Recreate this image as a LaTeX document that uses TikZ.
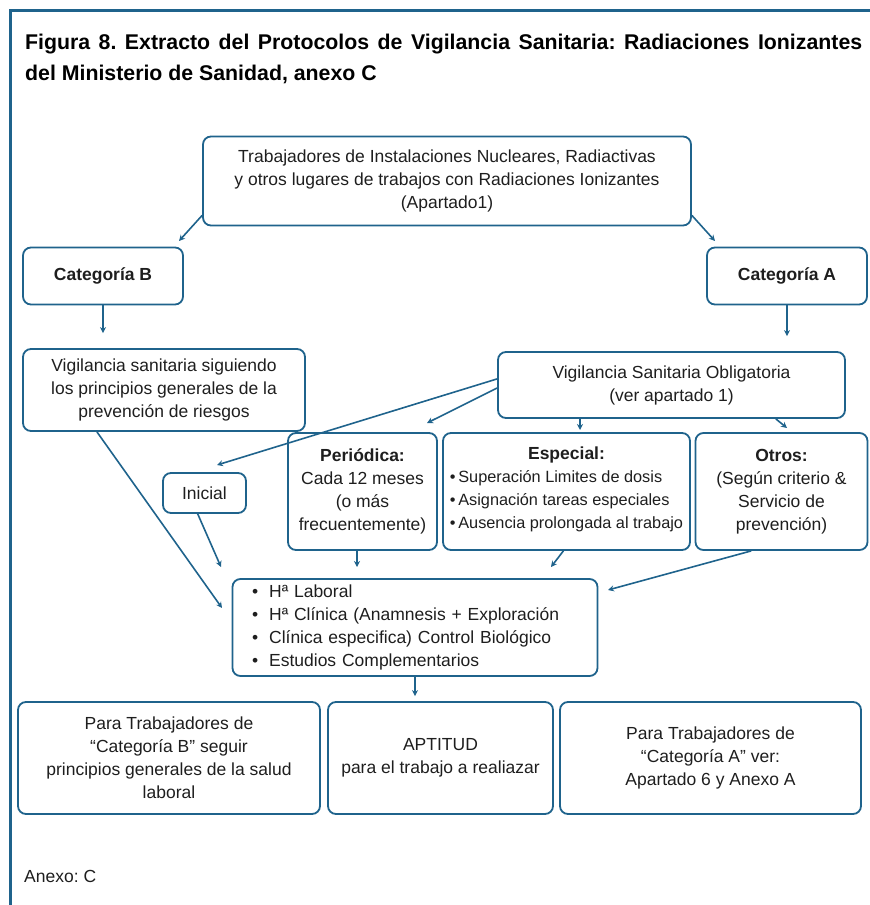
\documentclass[tikz,border=0pt]{standalone}
\usepackage{fontspec}
\setmainfont{Liberation Sans}
\usetikzlibrary{arrows.meta,calc}
\definecolor{marco}{RGB}{31,99,140}
\definecolor{texto}{RGB}{30,30,30}
\newcommand{\txt}{\fontsize{17.5}{23}\selectfont}
\frenchspacing

\begin{document}
\begin{tikzpicture}[x=1pt,y=-1pt,
        caja/.style={draw=marco,line width=1.8pt,rounded corners=8pt,align=center,inner sep=0pt,text=texto,font=\txt},
        flecha/.style={draw=marco,line width=1.6pt,-{Stealth[length=6pt,width=6pt]}}]
        \useasboundingbox (0,0) rectangle (870,905);
        \draw[marco,line width=3pt] (870,10) -- (10,10) -- (10,905);

        \node[anchor=north west,text width=837pt,align=justify,inner sep=0pt,font=\bfseries\fontsize{21.3}{31}\selectfont] (titulo) at (25,34)
            {Figura 8. Extracto del Protocolos de Vigilancia Sanitaria: Radiaciones Ionizantes\linebreak del Ministerio de Sanidad, anexo C};

        \node[caja,minimum width=488pt,minimum height=89pt] (trab) at (447,181)
            {Trabajadores de Instalaciones Nucleares, Radiactivas\\y otros lugares de trabajos con Radiaciones Ionizantes\\(Apartado1)};

        \node[caja,minimum width=160pt,minimum height=57pt,font=\txt\bfseries] (catB) at (103,276) {Categoría B};
        \node[caja,minimum width=160pt,minimum height=57pt,font=\txt\bfseries] (catA) at (787,276) {Categoría A};

        \node[caja,minimum width=282pt,minimum height=82pt] (vigB) at (164,390)
            {Vigilancia sanitaria siguiendo\\los principios generales de la\\prevención de riesgos};
        \node[caja,minimum width=347pt,minimum height=66pt] (vso) at (671.5,385)
            {Vigilancia Sanitaria Obligatoria\\(ver apartado 1)};

        \node[caja,minimum width=83pt,minimum height=40pt] (ini) at (204.5,493) {Inicial};
        \node[caja,minimum width=149pt,minimum height=117pt] (per) at (362.5,491.5)
            {\textbf{Periódica:}\\Cada 12 meses\\(o más\\frecuentemente)};
        \node[caja,minimum width=247pt,minimum height=117pt] (esp) at (566.5,491.5)
            {\textbf{Especial:}\\
            \begin{tabular}[t]{@{}l@{}}
            \fontsize{16.3}{23}\selectfont\textbullet\,Superación Limites de dosis\\
            \fontsize{16.3}{23}\selectfont\textbullet\,Asignación tareas especiales\\
            \fontsize{16.3}{23}\selectfont\textbullet\,Ausencia prolongada al trabajo
            \end{tabular}};
        \node[caja,minimum width=172pt,minimum height=117pt] (otr) at (781.5,491.5)
            {\textbf{Otros:}\\(Según criterio \&\\Servicio de\\prevención)};

        \node[caja,minimum width=365pt,minimum height=97pt,text width=326pt,align=left] (exa) at (415,627.5)
            {\textbullet\hspace{11pt}Hª Laboral\\
            \textbullet\hspace{11pt}Hª Clínica (Anamnesis + Exploración\\
            \textbullet\hspace{11pt}Clínica especifica) Control Biológico\\
            \textbullet\hspace{11pt}Estudios Complementarios};

        \node[caja,minimum width=302pt,minimum height=112pt] (finB) at (169,758)
            {Para Trabajadores de\\“Categoría B” seguir\\principios generales de la salud\\laboral};
        \node[caja,minimum width=225pt,minimum height=112pt] (apt) at (440.5,758)
            {APTITUD\\para el trabajo a realiazar};
        \node[caja,minimum width=301pt,minimum height=112pt] (finA) at (710.5,758)
            {Para Trabajadores de\\“Categoría A” ver:\\Apartado 6 y Anexo A};

        \node[anchor=west,inner sep=0pt,text=texto,font=\txt] (anexo) at (24,876) {Anexo: C};

        % puntas de flecha
        \coordinate (pB) at (179,241);
        \coordinate (pA) at (715,241);
        \coordinate (pIni) at (217,465);
        \coordinate (pPer) at (427,423);
        \coordinate (pEsp) at (580,430);
        \coordinate (pOtr) at (787,428);
        \coordinate (pE1) at (222,608);
        \coordinate (pE2) at (221,567);
        \coordinate (pE3) at (357,567);
        \coordinate (pE4) at (551,567);
        \coordinate (pE5) at (608,590);

        \draw[flecha] (trab.188) -- (pB);
        \draw[flecha] (trab.-8.5) -- (pA);
        \draw[flecha,shorten >=15pt] (catB.south) -- (catB.south |- vigB.north);
        \draw[flecha,shorten >=15pt] (catA.south) -- (catA.south |- vso.north);
        \draw[flecha] (vso.178) -- (pIni);
        \draw[flecha] (vso.181.6) -- (pPer);
        \draw[flecha] (pEsp |- vso.south) -- (pEsp);
        \draw[flecha] (vso.-18.2) -- (pOtr);
        \draw[flecha] (vigB.212.6) -- (pE1);
        \draw[flecha] (ini.252) -- (pE2);
        \draw[flecha] (pE3 |- per.south) -- (pE3);
        \draw[flecha] (esp.267) -- (pE4);
        \draw[flecha] (otr.243) -- (pE5);
        \draw[flecha,shorten >=5pt] (exa.south) -- (exa.south |- apt.north);
\end{tikzpicture}
\end{document}
